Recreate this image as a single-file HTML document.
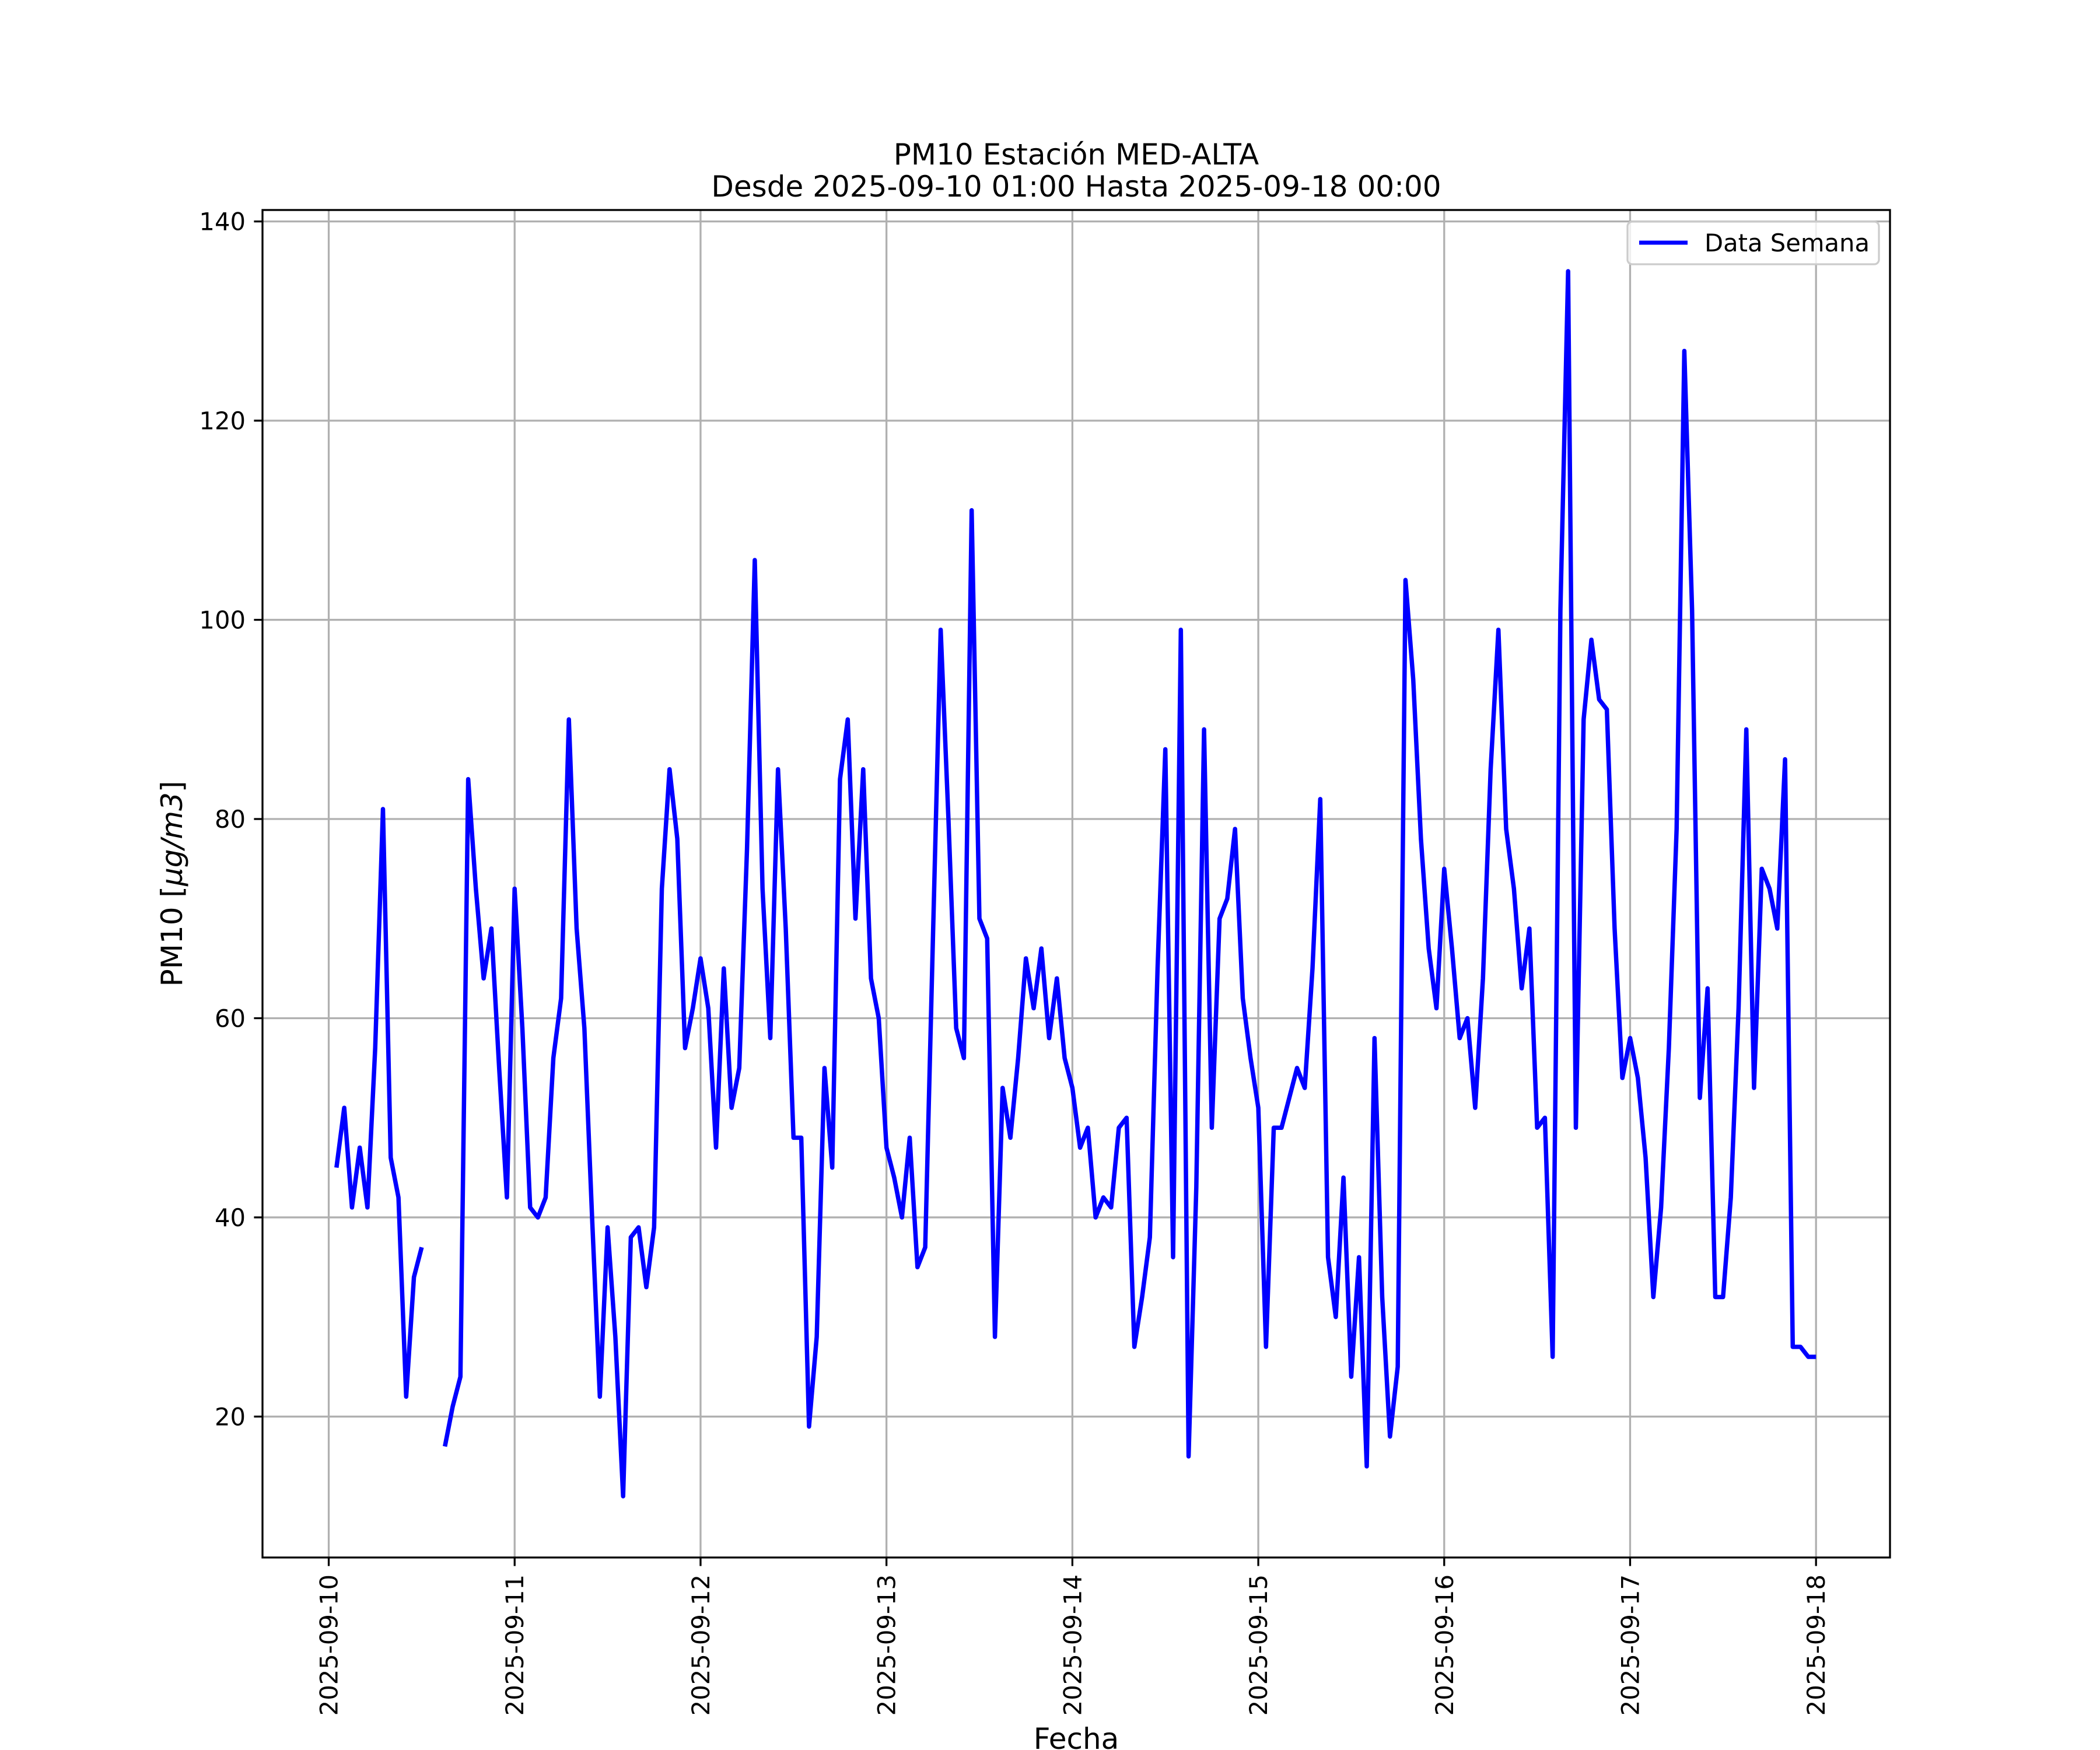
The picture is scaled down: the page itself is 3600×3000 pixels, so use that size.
<!DOCTYPE html>
<html><head><meta charset="utf-8"><style>
html,body{margin:0;padding:0;background:#fff}
svg{display:block}
text{font-family:"DejaVu Sans","Liberation Sans",sans-serif;fill:#000}
</style></head><body>
<svg id="chart" width="3600" height="3000" viewBox="0 0 3600 3000" xmlns="http://www.w3.org/2000/svg">
<rect width="3600" height="3000" fill="#fff"/>
<text x="1845" y="282" font-size="50" text-anchor="middle">PM10 Estación MED-ALTA</text>
<text x="1845" y="337" font-size="50" text-anchor="middle">Desde 2025-09-10 01:00 Hasta 2025-09-18 00:00</text>
<g id="grid"></g>
<g id="series"></g>
<rect x="450" y="360" width="2790" height="2310" fill="none" stroke="#000" stroke-width="3.3"/>
<g id="yticks"></g>
<g id="xticks"></g>
<text x="1845" y="2998" font-size="50" text-anchor="middle">Fecha</text>
<text transform="translate(312,1515) rotate(-90)" font-size="50" text-anchor="middle">PM10 [<tspan font-style="italic">μg/m3</tspan>]</text>
<g>
<rect x="2790" y="380" width="431" height="73" rx="8" fill="#fff" fill-opacity="0.8" stroke="#cccccc" stroke-width="3.3"/>
<line x1="2810" y1="416" x2="2893" y2="416" stroke="#0000ff" stroke-width="7"/>
<text x="2922" y="431" font-size="41.7">Data Semana</text>
</g>
</svg>
<script>
const NS="http://www.w3.org/2000/svg";
const startLabel="2025-09-10 01:00";
const dayLabels=["2025-09-10","2025-09-11","2025-09-12","2025-09-13","2025-09-14","2025-09-15","2025-09-16","2025-09-17","2025-09-18"];
const yTicks=[20,40,60,80,100,120,140];
const pm10Day1=[45,51,41,47,41,57,81,46,42,22,34,37,null,null,17,21,24,84,73,64,69,55,42,73];
const pm10Day2=[59,41,40,42,56,62,90,69,59,40,22,39,28,12,38,39,33,39,73,85,78,57,61,66];
const pm10Day3=[61,47,65,51,55,77,106,73,58,85,69,48,48,19,28,55,45,84,90,70,85,64,60,47];
const pm10Day4=[44,40,48,35,37,68,99,80,59,56,111,70,68,28,53,48,56,66,61,67,58,64,56,53];
const pm10Day5=[47,49,40,42,41,49,50,27,32,38,65,87,36,99,16,43,89,49,70,72,79,62,56,51];
const pm10Day6=[27,49,49,52,55,53,65,82,36,30,44,24,36,15,58,32,18,25,104,94,78,67,61,75];
const pm10Day7=[67,58,60,51,64,85,99,79,73,63,69,49,50,26,101,135,49,90,98,92,91,69,54,58];
const pm10Day8=[54,46,32,41,57,79,127,101,52,63,32,32,42,61,89,53,75,73,69,86,27,27,26,26];
const values=[].concat(pm10Day1,pm10Day2,pm10Day3,pm10Day4,pm10Day5,pm10Day6,pm10Day7,pm10Day8);

const X0=450,X1=3240,Y0=360,Y1=2670;
const nPts=values.length;
const spanDays=(nPts-1)/24, margin=spanDays*0.05;
const dmin=1/24-margin, dmax=nPts/24+margin;
function xScale(d){return X0+(d-dmin)/(dmax-dmin)*(X1-X0);}
const nums=values.filter(v=>v!==null);
const vmin=Math.min(...nums),vmax=Math.max(...nums),vm=(vmax-vmin)*0.05;
const ylo=vmin-vm,yhi=vmax+vm;
function yScale(v){return Y1-(v-ylo)/(yhi-ylo)*(Y1-Y0);}

const grid=document.getElementById('grid');
const yt=document.getElementById('yticks');
const xt=document.getElementById('xticks');
yTicks.forEach(v=>{
  const y=yScale(v);
  const g=document.createElementNS(NS,'line');
  
  
  g.setAttribute('x1',X0);g.setAttribute('x2',X1);g.setAttribute('y1',y);g.setAttribute('y2',y);
  g.setAttribute('stroke','#b0b0b0');g.setAttribute('stroke-width','3.3');
  grid.appendChild(g);
  const t=document.createElementNS(NS,'line');
  
  
  t.setAttribute('x1',X0-14.6);t.setAttribute('x2',X0);t.setAttribute('y1',y);t.setAttribute('y2',y);
  t.setAttribute('stroke','#000');t.setAttribute('stroke-width','3.3');
  yt.appendChild(t);
  const l=document.createElementNS(NS,'text');
  
  
  l.setAttribute('x',X0-29);l.setAttribute('y',y+15);l.setAttribute('font-size','41.7');l.setAttribute('text-anchor','end');
  l.textContent=v;
  yt.appendChild(l);
});
dayLabels.forEach((lab,i)=>{
  const x=xScale(i);
  const g=document.createElementNS(NS,'line');
  
  
  g.setAttribute('x1',x);g.setAttribute('x2',x);g.setAttribute('y1',Y0);g.setAttribute('y2',Y1);
  g.setAttribute('stroke','#b0b0b0');g.setAttribute('stroke-width','3.3');
  grid.appendChild(g);
  const t=document.createElementNS(NS,'line');
  
  
  t.setAttribute('x1',x);t.setAttribute('x2',x);t.setAttribute('y1',Y1);t.setAttribute('y2',Y1+14.6);
  t.setAttribute('stroke','#000');t.setAttribute('stroke-width','3.3');
  xt.appendChild(t);
  const l=document.createElementNS(NS,'text');
  
  
  l.setAttribute('transform','translate('+(x+15)+','+(Y1+29)+') rotate(-90)');
  l.setAttribute('font-size','41.7');l.setAttribute('text-anchor','end');
  l.textContent=lab;
  xt.appendChild(l);
});
const ser=document.getElementById('series');
let d='',pen=false;
values.forEach((v,i)=>{
  if(v===null){pen=false;return;}
  const x=xScale((i+1)/24),y=yScale(v);
  d+=(pen?'L':'M')+x.toFixed(1)+' '+y.toFixed(1)+' ';
  pen=true;
});
const p=document.createElementNS(NS,'path');


p.setAttribute('d',d);p.setAttribute('fill','none');p.setAttribute('stroke','#0000ff');
p.setAttribute('stroke-width','7.5');p.setAttribute('stroke-linejoin','round');
ser.appendChild(p);
</script>
</body></html>
